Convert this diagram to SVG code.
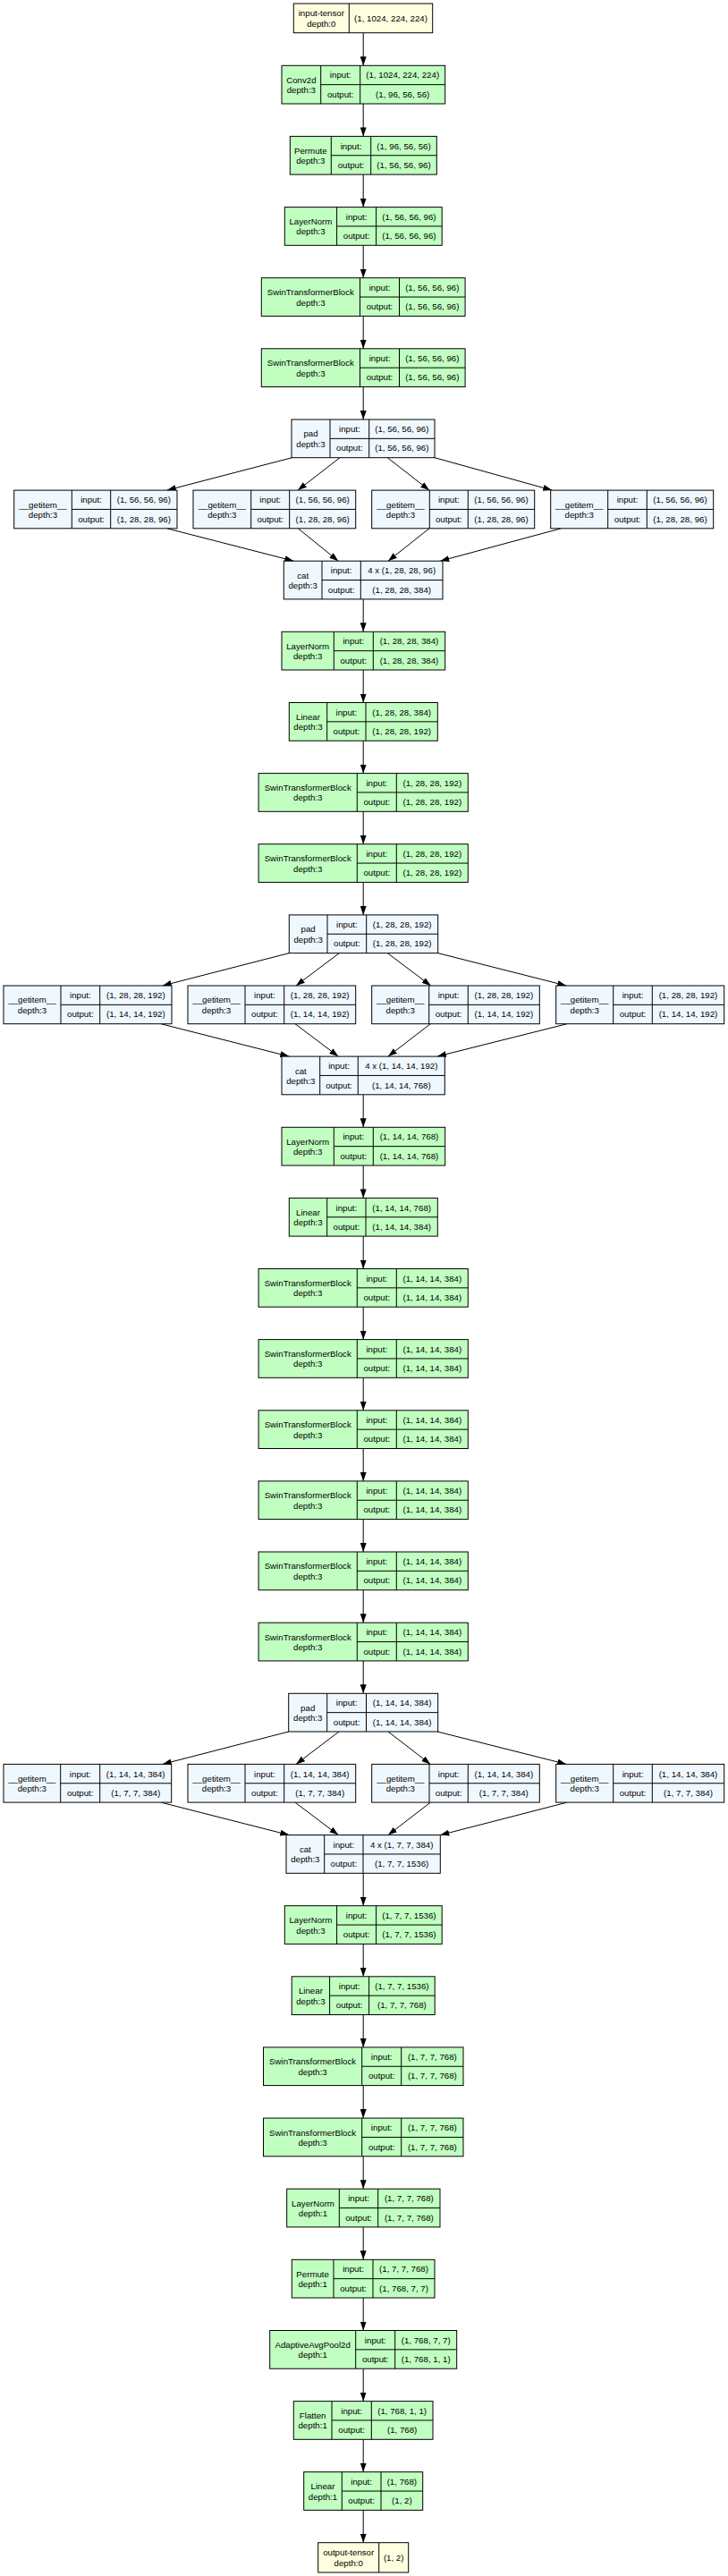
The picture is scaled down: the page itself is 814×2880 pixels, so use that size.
<svg xmlns="http://www.w3.org/2000/svg" width="814" height="2880" viewBox="0 0 814 2880">
<style>
.n rect{stroke:#000;stroke-width:1}
.g{fill:#c1ffc1}.b{fill:#f0f8ff}.y{fill:#ffffe0}
.dv{fill:none;stroke:#000;stroke-width:1}
text{font-family:"Liberation Sans",Arial,sans-serif;font-size:9.7px;fill:#000;text-anchor:middle}
.e{fill:none;stroke:#000;stroke-width:1;marker-end:url(#ah)}
</style>
<defs><marker id="ah" markerWidth="10" markerHeight="7" refX="10" refY="3.5" orient="auto" markerUnits="userSpaceOnUse"><path d="M0,0L10,3.5L0,7z" fill="#000"/></marker></defs>
<rect x="0" y="0" width="814" height="2880" style="fill:#fff;stroke:none"/>
<g id="edges">
<path class="e" d="M406.2 36.7V73.3"/>
<path class="e" d="M406.2 116V152.4"/>
<path class="e" d="M406.2 195.1V231.6"/>
<path class="e" d="M406.2 274.3V310.7"/>
<path class="e" d="M406.2 353.4V389.8"/>
<path class="e" d="M406.2 432.5V469"/>
<path class="e" d="M326.5 511.7L186.7 548.1"/>
<path class="e" d="M380 511.7L333 548.1"/>
<path class="e" d="M433.3 511.7L480 548.1"/>
<path class="e" d="M486 511.7L617.3 548.1"/>
<path class="e" d="M186.7 590.8L328.3 627.2"/>
<path class="e" d="M333.3 590.8L378.3 627.2"/>
<path class="e" d="M480 590.8L434 627.2"/>
<path class="e" d="M627.3 590.8L492.3 627.2"/>
<path class="e" d="M406.2 669.9V706.3"/>
<path class="e" d="M406.2 749V785.5"/>
<path class="e" d="M406.2 828.2V864.6"/>
<path class="e" d="M406.2 907.3V943.7"/>
<path class="e" d="M406.2 986.4V1022.9"/>
<path class="e" d="M323.3 1065.6L181.7 1102"/>
<path class="e" d="M379.3 1065.6L331 1102"/>
<path class="e" d="M433.3 1065.6L481.7 1102"/>
<path class="e" d="M489.7 1065.6L633.3 1102"/>
<path class="e" d="M180 1144.7L323.3 1181.1"/>
<path class="e" d="M330 1144.7L378.3 1181.1"/>
<path class="e" d="M481.3 1144.7L434 1181.1"/>
<path class="e" d="M634 1144.7L489 1181.1"/>
<path class="e" d="M406.2 1223.8V1260.3"/>
<path class="e" d="M406.2 1303V1339.4"/>
<path class="e" d="M406.2 1382.1V1418.5"/>
<path class="e" d="M406.2 1461.2V1497.6"/>
<path class="e" d="M406.2 1540.3V1576.8"/>
<path class="e" d="M406.2 1619.5V1655.9"/>
<path class="e" d="M406.2 1698.6V1735"/>
<path class="e" d="M406.2 1777.7V1814.2"/>
<path class="e" d="M406.2 1856.9V1893.3"/>
<path class="e" d="M322.7 1936L181.7 1972.4"/>
<path class="e" d="M379 1936L331 1972.4"/>
<path class="e" d="M434 1936L481.3 1972.4"/>
<path class="e" d="M489 1936L633.3 1972.4"/>
<path class="e" d="M180 2015.1L323.3 2051.6"/>
<path class="e" d="M330 2015.1L378.3 2051.6"/>
<path class="e" d="M481.3 2015.1L434 2051.6"/>
<path class="e" d="M634 2015.1L492.3 2051.6"/>
<path class="e" d="M406.2 2094.3V2130.7"/>
<path class="e" d="M406.2 2173.4V2209.8"/>
<path class="e" d="M406.2 2252.5V2288.9"/>
<path class="e" d="M406.2 2331.6V2368.1"/>
<path class="e" d="M406.2 2410.8V2447.2"/>
<path class="e" d="M406.2 2489.9V2526.3"/>
<path class="e" d="M406.2 2569V2605.5"/>
<path class="e" d="M406.2 2648.2V2684.6"/>
<path class="e" d="M406.2 2727.3V2763.7"/>
<path class="e" d="M406.2 2806.4V2842.7"/>
</g>
<g id="input-tensor" class="n"><rect class="y" x="328.3" y="4" width="155.4" height="32.7"/><path class="dv" d="M390.3 4V36.7"/><text x="359.3" y="18.4">input-tensor</text><text x="359.3" y="29.8">depth:0</text><text x="437" y="23.75">(1, 1024, 224, 224)</text></g>
<g id="conv2d" class="n"><rect class="g" x="315" y="73.3" width="182.7" height="42.7"/><path class="dv" d="M358.7 73.3V116M402.7 73.3V116M358.7 94.65H497.7"/><text x="336.85" y="92.7">Conv2d</text><text x="336.85" y="104.1">depth:3</text><text x="380.7" y="87.4">input:</text><text x="380.7" y="108.7">output:</text><text x="450.2" y="87.4">(1, 1024, 224, 224)</text><text x="450.2" y="108.7">(1, 96, 56, 56)</text></g>
<g id="permute1" class="n"><rect class="g" x="324.3" y="152.4" width="164" height="42.7"/><path class="dv" d="M370.3 152.4V195.1M414.7 152.4V195.1M370.3 173.75H488.3"/><text x="347.3" y="171.8">Permute</text><text x="347.3" y="183.2">depth:3</text><text x="392.5" y="166.5">input:</text><text x="392.5" y="187.8">output:</text><text x="451.5" y="166.5">(1, 96, 56, 56)</text><text x="451.5" y="187.8">(1, 56, 56, 96)</text></g>
<g id="layernorm1" class="n"><rect class="g" x="318.3" y="231.6" width="175.9" height="42.7"/><path class="dv" d="M376.6 231.6V274.3M420.6 231.6V274.3M376.6 252.95H494.2"/><text x="347.45" y="251">LayerNorm</text><text x="347.45" y="262.4">depth:3</text><text x="398.6" y="245.7">input:</text><text x="398.6" y="267">output:</text><text x="457.4" y="245.7">(1, 56, 56, 96)</text><text x="457.4" y="267">(1, 56, 56, 96)</text></g>
<g id="stb1" class="n"><rect class="g" x="292.3" y="310.7" width="227.8" height="42.7"/><path class="dv" d="M402.5 310.7V353.4M446.5 310.7V353.4M402.5 332.05H520.1"/><text x="347.4" y="330.1">SwinTransformerBlock</text><text x="347.4" y="341.5">depth:3</text><text x="424.5" y="324.8">input:</text><text x="424.5" y="346.1">output:</text><text x="483.3" y="324.8">(1, 56, 56, 96)</text><text x="483.3" y="346.1">(1, 56, 56, 96)</text></g>
<g id="stb2" class="n"><rect class="g" x="292.3" y="389.8" width="227.8" height="42.7"/><path class="dv" d="M402.5 389.8V432.5M446.5 389.8V432.5M402.5 411.15H520.1"/><text x="347.4" y="409.2">SwinTransformerBlock</text><text x="347.4" y="420.6">depth:3</text><text x="424.5" y="403.9">input:</text><text x="424.5" y="425.2">output:</text><text x="483.3" y="403.9">(1, 56, 56, 96)</text><text x="483.3" y="425.2">(1, 56, 56, 96)</text></g>
<g id="pad1" class="n"><rect class="b" x="326" y="469" width="160" height="42.7"/><path class="dv" d="M369 469V511.7M412.7 469V511.7M369 490.35H486"/><text x="347.5" y="488.4">pad</text><text x="347.5" y="499.8">depth:3</text><text x="390.85" y="483.1">input:</text><text x="390.85" y="504.4">output:</text><text x="449.35" y="483.1">(1, 56, 56, 96)</text><text x="449.35" y="504.4">(1, 56, 56, 96)</text></g>
<g id="getitem1a" class="n"><rect class="b" x="15.7" y="548.1" width="182.3" height="42.7"/><path class="dv" d="M80.3 548.1V590.8M123.7 548.1V590.8M80.3 569.45H198"/><text x="48" y="567.5">__getitem__</text><text x="48" y="578.9">depth:3</text><text x="102" y="562.2">input:</text><text x="102" y="583.5">output:</text><text x="160.85" y="562.2">(1, 56, 56, 96)</text><text x="160.85" y="583.5">(1, 28, 28, 96)</text></g>
<g id="getitem1b" class="n"><rect class="b" x="216" y="548.1" width="181.7" height="42.7"/><path class="dv" d="M280.7 548.1V590.8M323.7 548.1V590.8M280.7 569.45H397.7"/><text x="248.35" y="567.5">__getitem__</text><text x="248.35" y="578.9">depth:3</text><text x="302.2" y="562.2">input:</text><text x="302.2" y="583.5">output:</text><text x="360.7" y="562.2">(1, 56, 56, 96)</text><text x="360.7" y="583.5">(1, 28, 28, 96)</text></g>
<g id="getitem1c" class="n"><rect class="b" x="415.7" y="548.1" width="182" height="42.7"/><path class="dv" d="M480.3 548.1V590.8M523.3 548.1V590.8M480.3 569.45H597.7"/><text x="448" y="567.5">__getitem__</text><text x="448" y="578.9">depth:3</text><text x="501.8" y="562.2">input:</text><text x="501.8" y="583.5">output:</text><text x="560.5" y="562.2">(1, 56, 56, 96)</text><text x="560.5" y="583.5">(1, 28, 28, 96)</text></g>
<g id="getitem1d" class="n"><rect class="b" x="615.7" y="548.1" width="182" height="42.7"/><path class="dv" d="M679.7 548.1V590.8M723.3 548.1V590.8M679.7 569.45H797.7"/><text x="647.7" y="567.5">__getitem__</text><text x="647.7" y="578.9">depth:3</text><text x="701.5" y="562.2">input:</text><text x="701.5" y="583.5">output:</text><text x="760.5" y="562.2">(1, 56, 56, 96)</text><text x="760.5" y="583.5">(1, 28, 28, 96)</text></g>
<g id="cat1" class="n"><rect class="b" x="317.3" y="627.2" width="177.7" height="42.7"/><path class="dv" d="M360 627.2V669.9M403.3 627.2V669.9M360 648.55H495"/><text x="338.65" y="646.6">cat</text><text x="338.65" y="658">depth:3</text><text x="381.65" y="641.3">input:</text><text x="381.65" y="662.6">output:</text><text x="449.15" y="641.3">4 x (1, 28, 28, 96)</text><text x="449.15" y="662.6">(1, 28, 28, 384)</text></g>
<g id="layernorm2" class="n"><rect class="g" x="315" y="706.3" width="182.7" height="42.7"/><path class="dv" d="M373.3 706.3V749M417.3 706.3V749M373.3 727.65H497.7"/><text x="344.15" y="725.7">LayerNorm</text><text x="344.15" y="737.1">depth:3</text><text x="395.3" y="720.4">input:</text><text x="395.3" y="741.7">output:</text><text x="457.5" y="720.4">(1, 28, 28, 384)</text><text x="457.5" y="741.7">(1, 28, 28, 384)</text></g>
<g id="linear1" class="n"><rect class="g" x="323.3" y="785.5" width="166" height="42.7"/><path class="dv" d="M365.7 785.5V828.2M409 785.5V828.2M365.7 806.85H489.3"/><text x="344.5" y="804.9">Linear</text><text x="344.5" y="816.3">depth:3</text><text x="387.35" y="799.6">input:</text><text x="387.35" y="820.9">output:</text><text x="449.15" y="799.6">(1, 28, 28, 384)</text><text x="449.15" y="820.9">(1, 28, 28, 192)</text></g>
<g id="stb3" class="n"><rect class="g" x="289.1" y="864.6" width="234.2" height="42.7"/><path class="dv" d="M399.3 864.6V907.3M443.3 864.6V907.3M399.3 885.95H523.3"/><text x="344.2" y="884">SwinTransformerBlock</text><text x="344.2" y="895.4">depth:3</text><text x="421.3" y="878.7">input:</text><text x="421.3" y="900">output:</text><text x="483.3" y="878.7">(1, 28, 28, 192)</text><text x="483.3" y="900">(1, 28, 28, 192)</text></g>
<g id="stb4" class="n"><rect class="g" x="289.1" y="943.7" width="234.2" height="42.7"/><path class="dv" d="M399.3 943.7V986.4M443.3 943.7V986.4M399.3 965.05H523.3"/><text x="344.2" y="963.1">SwinTransformerBlock</text><text x="344.2" y="974.5">depth:3</text><text x="421.3" y="957.8">input:</text><text x="421.3" y="979.1">output:</text><text x="483.3" y="957.8">(1, 28, 28, 192)</text><text x="483.3" y="979.1">(1, 28, 28, 192)</text></g>
<g id="pad2" class="n"><rect class="b" x="323.3" y="1022.9" width="166.4" height="42.7"/><path class="dv" d="M366 1022.9V1065.6M409.7 1022.9V1065.6M366 1044.25H489.7"/><text x="344.65" y="1042.3">pad</text><text x="344.65" y="1053.7">depth:3</text><text x="387.85" y="1037">input:</text><text x="387.85" y="1058.3">output:</text><text x="449.7" y="1037">(1, 28, 28, 192)</text><text x="449.7" y="1058.3">(1, 28, 28, 192)</text></g>
<g id="getitem2a" class="n"><rect class="b" x="4" y="1102" width="188" height="42.7"/><path class="dv" d="M68 1102V1144.7M111.7 1102V1144.7M68 1123.35H192"/><text x="36" y="1121.4">__getitem__</text><text x="36" y="1132.8">depth:3</text><text x="89.85" y="1116.1">input:</text><text x="89.85" y="1137.4">output:</text><text x="151.85" y="1116.1">(1, 28, 28, 192)</text><text x="151.85" y="1137.4">(1, 14, 14, 192)</text></g>
<g id="getitem2b" class="n"><rect class="b" x="210" y="1102" width="187.7" height="42.7"/><path class="dv" d="M274 1102V1144.7M317.7 1102V1144.7M274 1123.35H397.7"/><text x="242" y="1121.4">__getitem__</text><text x="242" y="1132.8">depth:3</text><text x="295.85" y="1116.1">input:</text><text x="295.85" y="1137.4">output:</text><text x="357.7" y="1116.1">(1, 28, 28, 192)</text><text x="357.7" y="1137.4">(1, 14, 14, 192)</text></g>
<g id="getitem2c" class="n"><rect class="b" x="415.7" y="1102" width="187.6" height="42.7"/><path class="dv" d="M479.7 1102V1144.7M523.3 1102V1144.7M479.7 1123.35H603.3"/><text x="447.7" y="1121.4">__getitem__</text><text x="447.7" y="1132.8">depth:3</text><text x="501.5" y="1116.1">input:</text><text x="501.5" y="1137.4">output:</text><text x="563.3" y="1116.1">(1, 28, 28, 192)</text><text x="563.3" y="1137.4">(1, 14, 14, 192)</text></g>
<g id="getitem2d" class="n"><rect class="b" x="621.7" y="1102" width="188" height="42.7"/><path class="dv" d="M685.7 1102V1144.7M729.3 1102V1144.7M685.7 1123.35H809.7"/><text x="653.7" y="1121.4">__getitem__</text><text x="653.7" y="1132.8">depth:3</text><text x="707.5" y="1116.1">input:</text><text x="707.5" y="1137.4">output:</text><text x="769.5" y="1116.1">(1, 28, 28, 192)</text><text x="769.5" y="1137.4">(1, 14, 14, 192)</text></g>
<g id="cat2" class="n"><rect class="b" x="315" y="1181.1" width="182.3" height="42.7"/><path class="dv" d="M357.7 1181.1V1223.8M400.3 1181.1V1223.8M357.7 1202.45H497.3"/><text x="336.35" y="1200.5">cat</text><text x="336.35" y="1211.9">depth:3</text><text x="379" y="1195.2">input:</text><text x="379" y="1216.5">output:</text><text x="448.8" y="1195.2">4 x (1, 14, 14, 192)</text><text x="448.8" y="1216.5">(1, 14, 14, 768)</text></g>
<g id="layernorm3" class="n"><rect class="g" x="315" y="1260.3" width="182.7" height="42.7"/><path class="dv" d="M373.3 1260.3V1303M417.3 1260.3V1303M373.3 1281.65H497.7"/><text x="344.15" y="1279.7">LayerNorm</text><text x="344.15" y="1291.1">depth:3</text><text x="395.3" y="1274.4">input:</text><text x="395.3" y="1295.7">output:</text><text x="457.5" y="1274.4">(1, 14, 14, 768)</text><text x="457.5" y="1295.7">(1, 14, 14, 768)</text></g>
<g id="linear2" class="n"><rect class="g" x="323.3" y="1339.4" width="166" height="42.7"/><path class="dv" d="M365.7 1339.4V1382.1M409 1339.4V1382.1M365.7 1360.75H489.3"/><text x="344.5" y="1358.8">Linear</text><text x="344.5" y="1370.2">depth:3</text><text x="387.35" y="1353.5">input:</text><text x="387.35" y="1374.8">output:</text><text x="449.15" y="1353.5">(1, 14, 14, 768)</text><text x="449.15" y="1374.8">(1, 14, 14, 384)</text></g>
<g id="stb5" class="n"><rect class="g" x="289.1" y="1418.5" width="234.2" height="42.7"/><path class="dv" d="M399.3 1418.5V1461.2M443.3 1418.5V1461.2M399.3 1439.85H523.3"/><text x="344.2" y="1437.9">SwinTransformerBlock</text><text x="344.2" y="1449.3">depth:3</text><text x="421.3" y="1432.6">input:</text><text x="421.3" y="1453.9">output:</text><text x="483.3" y="1432.6">(1, 14, 14, 384)</text><text x="483.3" y="1453.9">(1, 14, 14, 384)</text></g>
<g id="stb6" class="n"><rect class="g" x="289.1" y="1497.6" width="234.2" height="42.7"/><path class="dv" d="M399.3 1497.6V1540.3M443.3 1497.6V1540.3M399.3 1518.95H523.3"/><text x="344.2" y="1517">SwinTransformerBlock</text><text x="344.2" y="1528.4">depth:3</text><text x="421.3" y="1511.7">input:</text><text x="421.3" y="1533">output:</text><text x="483.3" y="1511.7">(1, 14, 14, 384)</text><text x="483.3" y="1533">(1, 14, 14, 384)</text></g>
<g id="stb7" class="n"><rect class="g" x="289.1" y="1576.8" width="234.2" height="42.7"/><path class="dv" d="M399.3 1576.8V1619.5M443.3 1576.8V1619.5M399.3 1598.15H523.3"/><text x="344.2" y="1596.2">SwinTransformerBlock</text><text x="344.2" y="1607.6">depth:3</text><text x="421.3" y="1590.9">input:</text><text x="421.3" y="1612.2">output:</text><text x="483.3" y="1590.9">(1, 14, 14, 384)</text><text x="483.3" y="1612.2">(1, 14, 14, 384)</text></g>
<g id="stb8" class="n"><rect class="g" x="289.1" y="1655.9" width="234.2" height="42.7"/><path class="dv" d="M399.3 1655.9V1698.6M443.3 1655.9V1698.6M399.3 1677.25H523.3"/><text x="344.2" y="1675.3">SwinTransformerBlock</text><text x="344.2" y="1686.7">depth:3</text><text x="421.3" y="1670">input:</text><text x="421.3" y="1691.3">output:</text><text x="483.3" y="1670">(1, 14, 14, 384)</text><text x="483.3" y="1691.3">(1, 14, 14, 384)</text></g>
<g id="stb9" class="n"><rect class="g" x="289.1" y="1735" width="234.2" height="42.7"/><path class="dv" d="M399.3 1735V1777.7M443.3 1735V1777.7M399.3 1756.35H523.3"/><text x="344.2" y="1754.4">SwinTransformerBlock</text><text x="344.2" y="1765.8">depth:3</text><text x="421.3" y="1749.1">input:</text><text x="421.3" y="1770.4">output:</text><text x="483.3" y="1749.1">(1, 14, 14, 384)</text><text x="483.3" y="1770.4">(1, 14, 14, 384)</text></g>
<g id="stb10" class="n"><rect class="g" x="289.1" y="1814.2" width="234.2" height="42.7"/><path class="dv" d="M399.3 1814.2V1856.9M443.3 1814.2V1856.9M399.3 1835.55H523.3"/><text x="344.2" y="1833.6">SwinTransformerBlock</text><text x="344.2" y="1845">depth:3</text><text x="421.3" y="1828.3">input:</text><text x="421.3" y="1849.6">output:</text><text x="483.3" y="1828.3">(1, 14, 14, 384)</text><text x="483.3" y="1849.6">(1, 14, 14, 384)</text></g>
<g id="pad3" class="n"><rect class="b" x="322.7" y="1893.3" width="167" height="42.7"/><path class="dv" d="M365.7 1893.3V1936M409.5 1893.3V1936M365.7 1914.65H489.7"/><text x="344.2" y="1912.7">pad</text><text x="344.2" y="1924.1">depth:3</text><text x="387.6" y="1907.4">input:</text><text x="387.6" y="1928.7">output:</text><text x="449.6" y="1907.4">(1, 14, 14, 384)</text><text x="449.6" y="1928.7">(1, 14, 14, 384)</text></g>
<g id="getitem3a" class="n"><rect class="b" x="4" y="1972.4" width="187.7" height="42.7"/><path class="dv" d="M67.7 1972.4V2015.1M111.7 1972.4V2015.1M67.7 1993.75H191.7"/><text x="35.85" y="1991.8">__getitem__</text><text x="35.85" y="2003.2">depth:3</text><text x="89.7" y="1986.5">input:</text><text x="89.7" y="2007.8">output:</text><text x="151.7" y="1986.5">(1, 14, 14, 384)</text><text x="151.7" y="2007.8">(1, 7, 7, 384)</text></g>
<g id="getitem3b" class="n"><rect class="b" x="210" y="1972.4" width="187.7" height="42.7"/><path class="dv" d="M274 1972.4V2015.1M317.7 1972.4V2015.1M274 1993.75H397.7"/><text x="242" y="1991.8">__getitem__</text><text x="242" y="2003.2">depth:3</text><text x="295.85" y="1986.5">input:</text><text x="295.85" y="2007.8">output:</text><text x="357.7" y="1986.5">(1, 14, 14, 384)</text><text x="357.7" y="2007.8">(1, 7, 7, 384)</text></g>
<g id="getitem3c" class="n"><rect class="b" x="415.7" y="1972.4" width="187.6" height="42.7"/><path class="dv" d="M480 1972.4V2015.1M523.3 1972.4V2015.1M480 1993.75H603.3"/><text x="447.85" y="1991.8">__getitem__</text><text x="447.85" y="2003.2">depth:3</text><text x="501.65" y="1986.5">input:</text><text x="501.65" y="2007.8">output:</text><text x="563.3" y="1986.5">(1, 14, 14, 384)</text><text x="563.3" y="2007.8">(1, 7, 7, 384)</text></g>
<g id="getitem3d" class="n"><rect class="b" x="621.7" y="1972.4" width="188" height="42.7"/><path class="dv" d="M685.7 1972.4V2015.1M729.3 1972.4V2015.1M685.7 1993.75H809.7"/><text x="653.7" y="1991.8">__getitem__</text><text x="653.7" y="2003.2">depth:3</text><text x="707.5" y="1986.5">input:</text><text x="707.5" y="2007.8">output:</text><text x="769.5" y="1986.5">(1, 14, 14, 384)</text><text x="769.5" y="2007.8">(1, 7, 7, 384)</text></g>
<g id="cat3" class="n"><rect class="b" x="320" y="2051.6" width="172.3" height="42.7"/><path class="dv" d="M362.7 2051.6V2094.3M406 2051.6V2094.3M362.7 2072.95H492.3"/><text x="341.35" y="2071">cat</text><text x="341.35" y="2082.4">depth:3</text><text x="384.35" y="2065.7">input:</text><text x="384.35" y="2087">output:</text><text x="449.15" y="2065.7">4 x (1, 7, 7, 384)</text><text x="449.15" y="2087">(1, 7, 7, 1536)</text></g>
<g id="layernorm4" class="n"><rect class="g" x="318.3" y="2130.7" width="175.9" height="42.7"/><path class="dv" d="M376.6 2130.7V2173.4M420.6 2130.7V2173.4M376.6 2152.05H494.2"/><text x="347.45" y="2150.1">LayerNorm</text><text x="347.45" y="2161.5">depth:3</text><text x="398.6" y="2144.8">input:</text><text x="398.6" y="2166.1">output:</text><text x="457.4" y="2144.8">(1, 7, 7, 1536)</text><text x="457.4" y="2166.1">(1, 7, 7, 1536)</text></g>
<g id="linear3" class="n"><rect class="g" x="326.2" y="2209.8" width="160" height="42.7"/><path class="dv" d="M368.6 2209.8V2252.5M412.6 2209.8V2252.5M368.6 2231.15H486.2"/><text x="347.4" y="2229.2">Linear</text><text x="347.4" y="2240.6">depth:3</text><text x="390.6" y="2223.9">input:</text><text x="390.6" y="2245.2">output:</text><text x="449.4" y="2223.9">(1, 7, 7, 1536)</text><text x="449.4" y="2245.2">(1, 7, 7, 768)</text></g>
<g id="stb11" class="n"><rect class="g" x="294.5" y="2288.9" width="223.5" height="42.7"/><path class="dv" d="M404.7 2288.9V2331.6M448.7 2288.9V2331.6M404.7 2310.25H518"/><text x="349.6" y="2308.3">SwinTransformerBlock</text><text x="349.6" y="2319.7">depth:3</text><text x="426.7" y="2303">input:</text><text x="426.7" y="2324.3">output:</text><text x="483.35" y="2303">(1, 7, 7, 768)</text><text x="483.35" y="2324.3">(1, 7, 7, 768)</text></g>
<g id="stb12" class="n"><rect class="g" x="294.5" y="2368.1" width="223.5" height="42.7"/><path class="dv" d="M404.7 2368.1V2410.8M448.7 2368.1V2410.8M404.7 2389.45H518"/><text x="349.6" y="2387.5">SwinTransformerBlock</text><text x="349.6" y="2398.9">depth:3</text><text x="426.7" y="2382.2">input:</text><text x="426.7" y="2403.5">output:</text><text x="483.35" y="2382.2">(1, 7, 7, 768)</text><text x="483.35" y="2403.5">(1, 7, 7, 768)</text></g>
<g id="layernorm5" class="n"><rect class="g" x="320.7" y="2447.2" width="171.3" height="42.7"/><path class="dv" d="M379.3 2447.2V2489.9M422.7 2447.2V2489.9M379.3 2468.55H492"/><text x="350" y="2466.6">LayerNorm</text><text x="350" y="2478">depth:1</text><text x="401" y="2461.3">input:</text><text x="401" y="2482.6">output:</text><text x="457.35" y="2461.3">(1, 7, 7, 768)</text><text x="457.35" y="2482.6">(1, 7, 7, 768)</text></g>
<g id="permute2" class="n"><rect class="g" x="326.3" y="2526.3" width="159.7" height="42.7"/><path class="dv" d="M373 2526.3V2569M417 2526.3V2569M373 2547.65H486"/><text x="349.65" y="2545.7">Permute</text><text x="349.65" y="2557.1">depth:1</text><text x="395" y="2540.4">input:</text><text x="395" y="2561.7">output:</text><text x="451.5" y="2540.4">(1, 7, 7, 768)</text><text x="451.5" y="2561.7">(1, 768, 7, 7)</text></g>
<g id="adaptiveavgpool2d" class="n"><rect class="g" x="301.7" y="2605.5" width="209" height="42.7"/><path class="dv" d="M397.7 2605.5V2648.2M441.7 2605.5V2648.2M397.7 2626.85H510.7"/><text x="349.7" y="2624.9">AdaptiveAvgPool2d</text><text x="349.7" y="2636.3">depth:1</text><text x="419.7" y="2619.6">input:</text><text x="419.7" y="2640.9">output:</text><text x="476.2" y="2619.6">(1, 768, 7, 7)</text><text x="476.2" y="2640.9">(1, 768, 1, 1)</text></g>
<g id="flatten" class="n"><rect class="g" x="328.3" y="2684.6" width="155.7" height="42.7"/><path class="dv" d="M371 2684.6V2727.3M415.3 2684.6V2727.3M371 2705.95H484"/><text x="349.65" y="2704">Flatten</text><text x="349.65" y="2715.4">depth:1</text><text x="393.15" y="2698.7">input:</text><text x="393.15" y="2720">output:</text><text x="449.65" y="2698.7">(1, 768, 1, 1)</text><text x="449.65" y="2720">(1, 768)</text></g>
<g id="linear4" class="n"><rect class="g" x="339.7" y="2763.7" width="133" height="42.7"/><path class="dv" d="M382.3 2763.7V2806.4M426 2763.7V2806.4M382.3 2785.05H472.7"/><text x="361" y="2783.1">Linear</text><text x="361" y="2794.5">depth:1</text><text x="404.15" y="2777.8">input:</text><text x="404.15" y="2799.1">output:</text><text x="449.35" y="2777.8">(1, 768)</text><text x="449.35" y="2799.1">(1, 2)</text></g>
<g id="output-tensor" class="n"><rect class="y" x="355.7" y="2842.7" width="101" height="33.3"/><path class="dv" d="M423.7 2842.7V2876"/><text x="389.7" y="2857.4">output-tensor</text><text x="389.7" y="2868.8">depth:0</text><text x="440.2" y="2862.75">(1, 2)</text></g>
</svg>
